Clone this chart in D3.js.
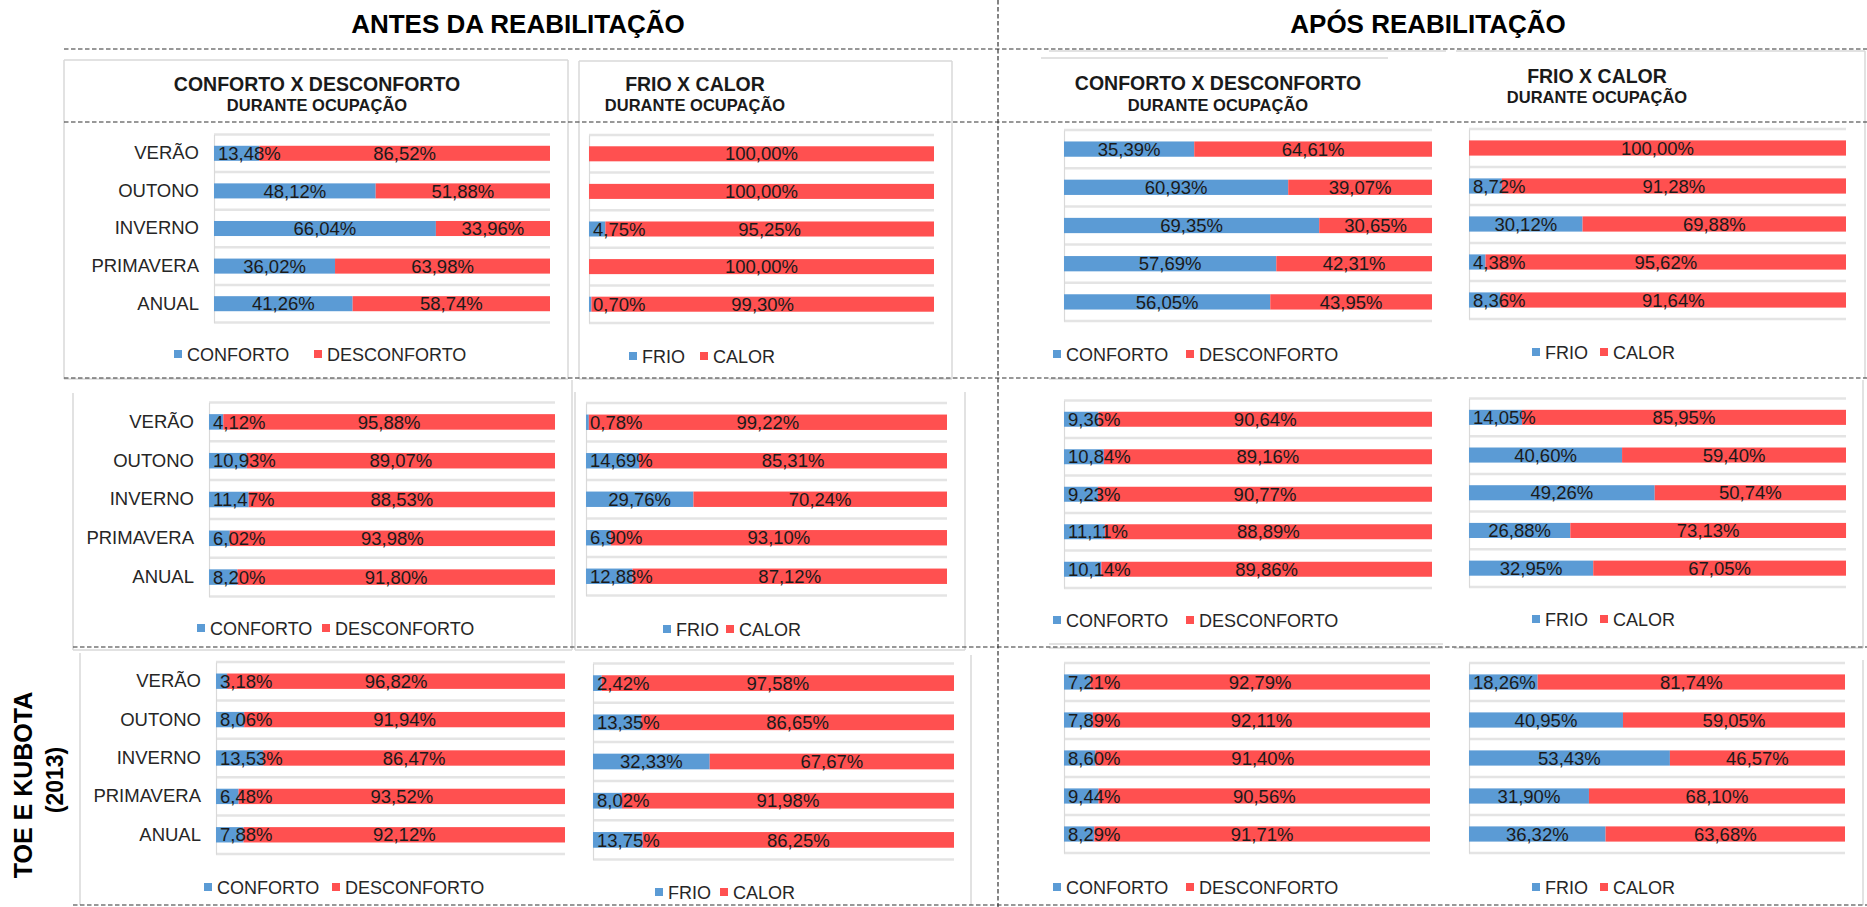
<!DOCTYPE html>
<html>
<head>
<meta charset="utf-8">
<script src="https://cdn.jsdelivr.net/npm/d3@7"></script>
<style>
  body { margin: 0; background: #fff; }
  svg { display: block; }
  text { font-family: "Liberation Sans", Arial, Helvetica, sans-serif; }
</style>
</head>
<body>
<svg id="chart" width="1867" height="907"></svg>
<script>
// ---- data ---------------------------------------------------------------
const seasons = ["VERÃO", "OUTONO", "INVERNO", "PRIMAVERA", "ANUAL"];
const comfortKeys = ["CONFORTO", "DESCONFORTO"];
const thermalKeys = ["FRIO", "CALOR"];
const sectionTitles = ["ANTES DA REABILITAÇÃO", "APÓS REABILITAÇÃO"];
const chartTitles = ["CONFORTO X DESCONFORTO", "FRIO X CALOR"];
const chartSubtitle = "DURANTE OCUPAÇÃO";
const sourceLabel = ["TOE E KUBOTA", "(2013)"];

// row 1
const antes1Conforto    = [13.48, 48.12, 66.04, 36.02, 41.26];
const antes1Desconforto = [86.52, 51.88, 33.96, 63.98, 58.74];
const antes1Frio        = [0, 0, 4.75, 0, 0.70];
const antes1Calor       = [100, 100, 95.25, 100, 99.30];
const apos1Conforto     = [35.39, 60.93, 69.35, 57.69, 56.05];
const apos1Desconforto  = [64.61, 39.07, 30.65, 42.31, 43.95];
const apos1Frio         = [0, 8.72, 30.12, 4.38, 8.36];
const apos1Calor        = [100, 91.28, 69.88, 95.62, 91.64];
// row 2
const antes2Conforto    = [4.12, 10.93, 11.47, 6.02, 8.20];
const antes2Desconforto = [95.88, 89.07, 88.53, 93.98, 91.80];
const antes2Frio        = [0.78, 14.69, 29.76, 6.90, 12.88];
const antes2Calor       = [99.22, 85.31, 70.24, 93.10, 87.12];
const apos2Conforto     = [9.36, 10.84, 9.23, 11.11, 10.14];
const apos2Desconforto  = [90.64, 89.16, 90.77, 88.89, 89.86];
const apos2Frio         = [14.05, 40.60, 49.26, 26.88, 32.95];
const apos2Calor        = [85.95, 59.40, 50.74, 73.13, 67.05];
// row 3 (Toe e Kubota, 2013)
const antes3Conforto    = [3.18, 8.06, 13.53, 6.48, 7.88];
const antes3Desconforto = [96.82, 91.94, 86.47, 93.52, 92.12];
const antes3Frio        = [2.42, 13.35, 32.33, 8.02, 13.75];
const antes3Calor       = [97.58, 86.65, 67.67, 91.98, 86.25];
const apos3Conforto     = [7.21, 7.89, 8.60, 9.44, 8.29];
const apos3Desconforto  = [92.79, 92.11, 91.40, 90.56, 91.71];
const apos3Frio         = [18.26, 40.95, 53.43, 31.90, 36.32];
const apos3Calor        = [81.74, 59.05, 46.57, 68.10, 63.68];

// ---- layout of the twelve small charts ----------------------------------
const panels = [
  // row 1
  { a: antes1Conforto, b: antes1Desconforto, keys: comfortKeys, plot: [214, 550, 134.5, 322.5], cats: true,
    title: [chartTitles[0], 317, 91, 111], legend: [[174, 354], [314, 354]] },
  { a: antes1Frio, b: antes1Calor, keys: thermalKeys, plot: [589, 934, 135, 323], cats: false,
    title: [chartTitles[1], 695, 91, 111], legend: [[629, 356], [700, 356]] },
  { a: apos1Conforto, b: apos1Desconforto, keys: comfortKeys, plot: [1064, 1432, 130, 321], cats: false,
    title: [chartTitles[0], 1218, 90, 111], legend: [[1053, 354], [1186, 354]] },
  { a: apos1Frio, b: apos1Calor, keys: thermalKeys, plot: [1469, 1846, 129, 319], cats: false,
    title: [chartTitles[1], 1597, 83, 103], legend: [[1532, 352], [1600, 352]] },
  // row 2
  { a: antes2Conforto, b: antes2Desconforto, keys: comfortKeys, plot: [209, 555, 402.5, 596.5], cats: true,
    legend: [[197, 628], [322, 628]] },
  { a: antes2Frio, b: antes2Calor, keys: thermalKeys, plot: [586, 947, 403, 595.5], cats: false,
    legend: [[663, 629], [726, 629]] },
  { a: apos2Conforto, b: apos2Desconforto, keys: comfortKeys, plot: [1064, 1432, 400.5, 588], cats: false,
    legend: [[1053, 620], [1186, 620]] },
  { a: apos2Frio, b: apos2Calor, keys: thermalKeys, plot: [1469, 1846, 398.5, 587], cats: false,
    legend: [[1532, 619], [1600, 619]] },
  // row 3
  { a: antes3Conforto, b: antes3Desconforto, keys: comfortKeys, plot: [216, 565, 662, 854], cats: true,
    legend: [[204, 887], [332, 887]] },
  { a: antes3Frio, b: antes3Calor, keys: thermalKeys, plot: [593, 954, 663.5, 859.5], cats: false,
    legend: [[655, 892], [720, 892]] },
  { a: apos3Conforto, b: apos3Desconforto, keys: comfortKeys, plot: [1064, 1430, 663, 853], cats: false,
    legend: [[1053, 887], [1186, 887]] },
  { a: apos3Frio, b: apos3Calor, keys: thermalKeys, plot: [1469, 1845, 663, 853], cats: false,
    legend: [[1532, 887], [1600, 887]] }
];

// light grey chart-area borders
const frameLines = [
  [64, 60, 568, 60], [64, 60, 64, 379], [568, 60, 568, 379], [64, 379, 568, 379],
  [579, 61, 952, 61], [579, 61, 579, 379], [952, 61, 952, 379], [579, 379, 952, 379],
  [1049, 51, 1446, 51], [1041, 58, 1388, 58],
  [1456, 51, 1865, 51], [1865, 51, 1865, 378],
  [73, 393, 73, 650], [572, 380, 572, 650], [73, 650, 572, 650],
  [575, 392, 575, 650], [965, 392, 965, 650], [575, 650, 965, 650],
  [1049, 379, 1446, 379], [1863, 380, 1863, 648], [1049, 648, 1443, 648], [1454, 648, 1863, 648],
  [80, 653, 80, 905], [971, 655, 971, 905],
  [1049, 644, 1443, 644], [1863, 660, 1863, 905]
];

// dashed separators
const dashLines = [
  [998, 0, 998, 907],
  [64, 49, 1867, 49], [64, 122, 1867, 122], [64, 378, 1867, 378],
  [73, 647, 1867, 647], [73, 905, 1867, 905]
];

const colors = ["#5B9BD5", "#FF5050"];
const pct = d3.formatLocale({ decimal: ",", thousands: ".", grouping: [3], currency: ["", ""] }).format(".2f");

const svg = d3.select("#chart");

// frames
svg.append("g").selectAll("line").data(frameLines).join("line")
  .attr("x1", d => d[0]).attr("y1", d => d[1]).attr("x2", d => d[2]).attr("y2", d => d[3])
  .attr("stroke", "#d9d9d9").attr("stroke-width", 1.5);

// section headings
svg.append("g").selectAll("text").data(sectionTitles).join("text")
  .attr("x", (d, i) => i === 0 ? 518 : 1428).attr("y", 33)
  .attr("text-anchor", "middle").attr("font-size", 26).attr("font-weight", "bold")
  .attr("fill", "#000").text(d => d);

// rotated source label on the left
const src = svg.append("g");
src.append("text").attr("transform", "translate(32,785) rotate(-90)")
  .attr("text-anchor", "middle").attr("font-size", 25).attr("font-weight", "bold").attr("fill", "#000")
  .text(sourceLabel[0]);
src.append("text").attr("transform", "translate(63,780) rotate(-90)")
  .attr("text-anchor", "middle").attr("font-size", 23).attr("font-weight", "bold").attr("fill", "#000")
  .text(sourceLabel[1]);

panels.forEach(p => {
  const [x0, x1, y0, y1] = p.plot;
  const g = svg.append("g");
  const x = d3.scaleLinear().domain([0, 100]).range([x0, x1]);
  const y = d3.scaleBand().domain(seasons).range([y0, y1]).paddingInner(0.6).paddingOuter(0.3);

  const rows = seasons.map((s, i) => ({ season: s, a: p.a[i], b: p.b[i] }));
  const stacked = d3.stack().keys(["a", "b"])(rows);

  // horizontal separators between categories
  g.append("g").selectAll("line").data(d3.range(seasons.length + 1)).join("line")
    .attr("x1", x0).attr("x2", x1)
    .attr("y1", i => y0 + i * y.step()).attr("y2", i => y0 + i * y.step())
    .attr("stroke", "#e4e4e4").attr("stroke-width", 2.5);

  // category axis
  const axis = g.append("g").attr("transform", `translate(${x0},0)`)
    .call(d3.axisLeft(y).tickSize(0).tickSizeOuter(0).tickPadding(15));
  axis.select(".domain").attr("stroke", "#d9d9d9").attr("stroke-width", 1.2);
  axis.selectAll("text").attr("font-size", 18.5).attr("fill", "#262626")
    .attr("font-family", '"Liberation Sans", Arial, sans-serif');
  if (!p.cats) axis.selectAll(".tick text").remove();

  // bars
  g.append("g").selectAll("g").data(stacked).join("g")
    .attr("fill", (d, i) => colors[i])
    .selectAll("rect").data(d => d).join("rect")
    .attr("x", d => x(d[0])).attr("width", d => Math.max(0, x(d[1]) - x(d[0])))
    .attr("y", d => y(d.data.season)).attr("height", y.bandwidth());

  // data labels: centred on each segment, kept inside the plot on the left
  const labels = [];
  stacked.forEach(layer => layer.forEach(d => {
    const v = d.data[layer.key];
    if (v > 0) labels.push({ v, cx: (x(d[0]) + x(d[1])) / 2, cy: y(d.data.season) + y.bandwidth() / 2 });
  }));
  g.append("g").selectAll("text").data(labels).join("text")
    .attr("y", d => d.cy).attr("dy", "0.36em")
    .attr("text-anchor", "middle").attr("font-size", 18.5).attr("fill", "#1a1a1a")
    .text(d => pct(d.v) + "%")
    .attr("x", function (d) {
      const w = this.getComputedTextLength();
      return Math.max(d.cx, x0 + 4 + w / 2);
    });

  // legend
  const lg = g.append("g").selectAll("g").data(p.keys).join("g")
    .attr("transform", (d, i) => `translate(${p.legend[i][0]},${p.legend[i][1]})`);
  lg.append("rect").attr("x", 0).attr("y", -4).attr("width", 8).attr("height", 8)
    .attr("fill", (d, i) => colors[i]);
  lg.append("text").attr("x", 13).attr("y", 6.5).attr("font-size", 18).attr("fill", "#262626")
    .text(d => d);

  // chart titles (first row only)
  if (p.title) {
    const [t, cx, yt, ys] = p.title;
    g.append("text").attr("x", cx).attr("y", yt).attr("text-anchor", "middle")
      .attr("font-size", 19.5).attr("font-weight", "bold").attr("fill", "#1a1a1a").text(t);
    g.append("text").attr("x", cx).attr("y", ys).attr("text-anchor", "middle")
      .attr("font-size", 16.5).attr("font-weight", "bold").attr("fill", "#1a1a1a").text(chartSubtitle);
  }
});

// dashed separators on top
svg.append("g").selectAll("line").data(dashLines).join("line")
  .attr("x1", d => d[0]).attr("y1", d => d[1]).attr("x2", d => d[2]).attr("y2", d => d[3])
  .attr("stroke", "#333").attr("stroke-width", 1.2).attr("stroke-dasharray", "4.5,2.5");
</script>
</body>
</html>
